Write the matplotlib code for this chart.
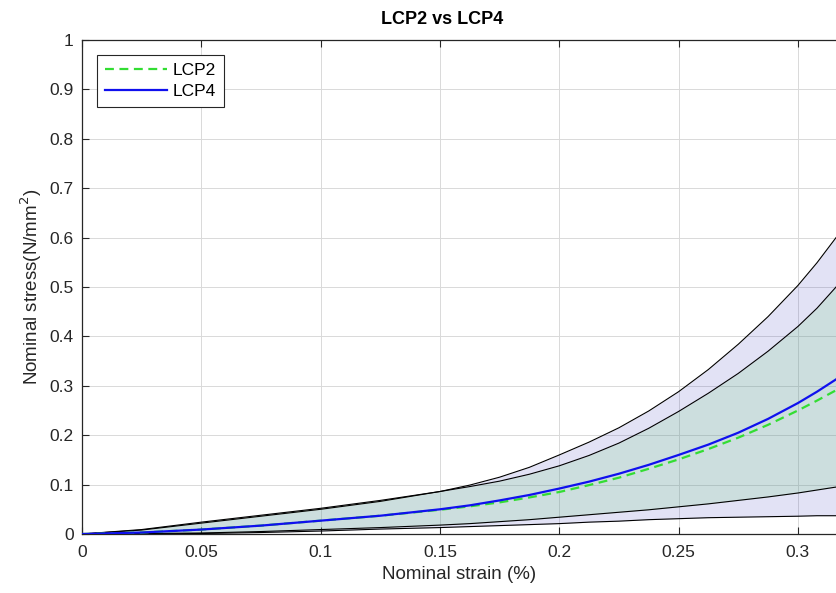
import matplotlib
matplotlib.use("Agg")
import matplotlib.pyplot as plt
import numpy as np

plt.rcParams['font.family'] = ['Liberation Sans', 'DejaVu Sans']

# ------------------- Data -------------------
strain = [0, 0.025, 0.05, 0.075, 0.1, 0.125, 0.15, 0.1625, 0.175, 0.1875, 0.2,
          0.2125, 0.225, 0.2375, 0.25, 0.2625, 0.275, 0.2875, 0.3, 0.308, 0.316]

lcp2_mean  = [0, 0.003, 0.009, 0.017, 0.027, 0.037, 0.049, 0.056, 0.064, 0.074, 0.085,
              0.099, 0.114, 0.132, 0.151, 0.172, 0.195, 0.221, 0.250, 0.270, 0.291]
lcp2_upper = [0, 0.009, 0.024, 0.038, 0.052, 0.068, 0.086, 0.096, 0.107, 0.121, 0.138,
              0.159, 0.184, 0.214, 0.248, 0.285, 0.325, 0.370, 0.420, 0.457, 0.500]
lcp2_lower = [0, 0.001, 0.002, 0.005, 0.009, 0.013, 0.018, 0.021, 0.025, 0.029, 0.034,
              0.039, 0.044, 0.049, 0.055, 0.061, 0.068, 0.075, 0.083, 0.089, 0.095]

lcp4_mean  = [0, 0.003, 0.009, 0.017, 0.027, 0.037, 0.050, 0.058, 0.068, 0.079, 0.092,
              0.106, 0.122, 0.140, 0.160, 0.181, 0.205, 0.233, 0.265, 0.288, 0.313]
lcp4_upper = [0, 0.008, 0.022, 0.036, 0.050, 0.066, 0.086, 0.099, 0.115, 0.135, 0.160,
              0.186, 0.215, 0.249, 0.288, 0.333, 0.384, 0.440, 0.503, 0.549, 0.600]
lcp4_lower = [0, 0.000, 0.001, 0.003, 0.006, 0.010, 0.013, 0.015, 0.017, 0.019, 0.021,
              0.024, 0.026, 0.029, 0.031, 0.033, 0.034, 0.035, 0.036, 0.037, 0.037]

xticks = [0, 0.05, 0.1, 0.15, 0.2, 0.25, 0.3]
yticks = [0, 0.1, 0.2, 0.3, 0.4, 0.5, 0.6, 0.7, 0.8, 0.9, 1]

# ------------------- Figure -------------------
W, H = 837, 593
fig = plt.figure(figsize=(W / 100, H / 100), dpi=100)
ax = fig.add_axes([82 / W, (H - 534) / H, (W - 82) / W, (534 - 40) / H])

axcol = (0.15, 0.15, 0.15)

# bands: LCP4 (outer, lavender) then LCP2 (inner, greenish overlay)
ax.fill_between(strain, lcp4_lower, lcp4_upper, color=(62/255, 62/255, 188/255), alpha=0.15, lw=0, zorder=2)
ax.fill_between(strain, lcp2_lower, lcp2_upper, color=(116/255, 206/255, 130/255), alpha=0.2, lw=0, zorder=2)
for edge in (lcp4_upper, lcp4_lower, lcp2_upper, lcp2_lower):
    ax.plot(strain, edge, color='black', lw=0.8, zorder=3)

ax.plot(strain, lcp2_mean, color='#33dd33', ls=(0, (4, 2.5)), lw=1.6, label='LCP2', zorder=4)
ax.plot(strain, lcp4_mean, color='#1010ee', lw=1.6, label='LCP4', zorder=5)

ax.set_xlim(0, 0.3164)
ax.set_ylim(0, 1)
ax.set_xticks(xticks)
ax.set_xticklabels(['0', '0.05', '0.1', '0.15', '0.2', '0.25', '0.3'])
ax.set_yticks(yticks)
ax.set_yticklabels(['0', '0.1', '0.2', '0.3', '0.4', '0.5', '0.6', '0.7', '0.8', '0.9', '1'])

ax.grid(True, color=(0.85, 0.85, 0.85), lw=0.7, zorder=1)
ax.set_axisbelow(True)
ax.tick_params(direction='in', length=5, width=0.8, colors=axcol, labelsize=12.5,
               top=True, right=False, pad=6)
ax.tick_params(axis='x', pad=8)
for s in ('left', 'bottom', 'top'):
    ax.spines[s].set_color(axcol)
    ax.spines[s].set_linewidth(0.9)
ax.spines['right'].set_visible(False)

ax.set_xlabel('Nominal strain (%)', fontsize=13.5, color=axcol, labelpad=4)
ax.set_ylabel('Nominal stress(N/mm$^2$)', fontsize=13.5, color=axcol, labelpad=4)
fig.text(442 / W, 1 - 19 / H, 'LCP2 vs LCP4', ha='center', va='center',
         fontsize=13, fontweight='bold', color='black')

leg = ax.legend(loc='upper left', bbox_to_anchor=(0.02, 0.97), fontsize=12.5,
                frameon=True, fancybox=False, edgecolor=axcol, framealpha=1,
                handlelength=3.6, handletextpad=0.3, borderpad=0.45, labelspacing=0.35,
                borderaxespad=0)
leg.get_frame().set_linewidth(0.8)

fig.savefig('out.png', dpi=100)
